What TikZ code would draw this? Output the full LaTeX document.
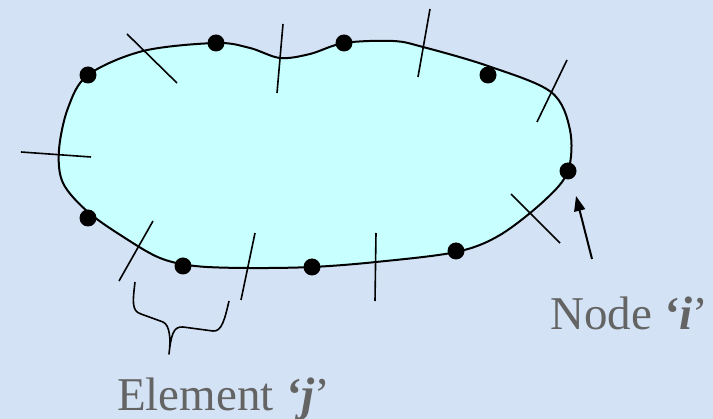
\documentclass[tikz,border=0pt]{standalone}
\usepackage{fontspec}
\setmainfont{Liberation Serif}
\usetikzlibrary{arrows.meta}
\definecolor{bgblue}{RGB}{211,227,245}
\definecolor{blobfill}{RGB}{200,255,255}
\definecolor{labelgray}{RGB}{100,100,100}
\tikzset{
  dot/.style={circle,fill=black,inner sep=0pt,minimum size=17pt},
  boundary/.style={line width=2pt,draw=black,fill=blobfill},
  tick/.style={line width=1.6pt},
  lbl/.style={anchor=base west,text=labelgray,font=\fontsize{47}{50}\selectfont,inner sep=0pt},
  pointer/.style={line width=2pt,-{Triangle[length=15pt,width=11pt]}}
}
\begin{document}
\begin{tikzpicture}[x=1pt,y=-1pt]
\fill[bgblue] (0,0) rectangle (713,419);
\useasboundingbox (0,0) rectangle (713,419);
% boundary
\draw[boundary] plot[smooth cycle, tension=0.55] coordinates {
 (59,150) (68,108) (88,75) (143,51) (216,43) (250,48) (280,58) (310,54)
 (344,43) (393,41) (423,47) (488,66) (551,92) (570,130) (568,171)
 (545,200) (500,235) (456,252) (376,262) (312,267) (247,268) (195,266)
 (160,258) (125,238) (88,212) (63,183)};
% element ticks
\draw[tick] (127,34) -- (177,83);
\draw[tick] (283,24) -- (277,93);
\draw[tick] (21,152) -- (91,157);
\draw[tick] (430,9) -- (418,77);
\draw[tick] (567,60) -- (537,122);
\draw[tick] (511,194) -- (560,243);
\draw[tick] (376,233) -- (375,301);
\draw[tick] (153,221) -- (119,281);
\draw[tick] (255,233) -- (241,300);
% nodes
\node[dot] (n1) at (88,75) {};
\node[dot] (n2) at (216,43) {};
\node[dot] (n3) at (344,43) {};
\node[dot] (n4) at (488,75) {};
\node[dot] (ni) at (568,171) {};
\node[dot] (n6) at (456,251) {};
\node[dot] (n7) at (312,267) {};
\node[dot] (n8) at (183,266) {};
\node[dot] (n9) at (88,218) {};
% arrow to node i
\coordinate (afrom) at (592,259);
\coordinate (atip) at (576,196);
\draw[pointer] (afrom) -- (atip);
% brace
\draw[line width=1.6pt,line join=round]
 (135,282) .. controls (133,300) and (131,311) .. (141,314) -- (163,322)
 .. controls (170,325) and (171,340) .. (169,354)
 .. controls (171,336) and (173,326) .. (183,327) -- (213,331)
 .. controls (222,332) and (225,318) .. (229,301);
% labels
\node[lbl] (lnode) at (550,330) {Node {\bfseries\itshape ‘i}’};
\node[lbl] (lelem) at (117,411) {Element {\bfseries\itshape ‘j}’};
\end{tikzpicture}
\end{document}
